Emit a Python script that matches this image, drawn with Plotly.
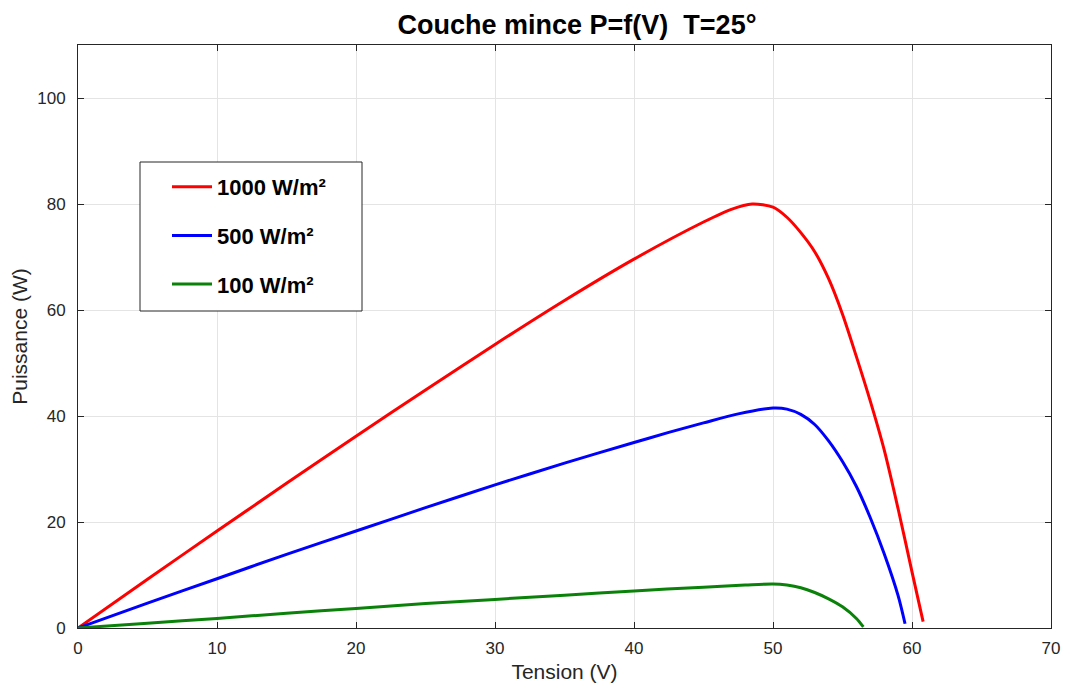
import plotly.graph_objects as go

# Tension (V) and Puissance (W)
v_1000 = [0, 5, 10, 15, 20, 25, 30, 35, 40, 45, 47, 48.5, 50, 51, 52, 53, 54, 55, 56, 57, 58, 59, 60, 60.8]
p_1000 = [0, 9.2, 18.3, 27.3, 36.2, 44.9, 53.5, 61.8, 69.6, 76.6, 79.0, 80.0, 79.4, 77.5, 74.6, 71.0, 65.9, 59.2, 51.2, 42.8, 33.6, 22.5, 10.6, 1.2]

v_500 = [0, 5, 10, 15, 20, 25, 30, 35, 40, 42.5, 45, 47.5, 50, 51, 52, 53, 54, 55, 56, 57, 58, 59, 59.5]
p_500 = [0, 4.7, 9.3, 13.9, 18.3, 22.7, 27.0, 31.1, 35.0, 36.9, 38.7, 40.4, 41.5, 41.3, 40.3, 38.4, 35.3, 31.4, 26.7, 20.8, 14.0, 6.1, 0.8]

v_100 = [0, 5, 10, 15, 20, 25, 30, 35, 40, 45, 48, 50, 51, 52, 53, 54, 55, 56, 56.5]
p_100 = [0, 0.9, 1.8, 2.8, 3.7, 4.6, 5.4, 6.2, 7.0, 7.7, 8.1, 8.3, 8.1, 7.6, 6.7, 5.5, 4.0, 1.8, 0.2]

series = [
    ("1000 W/m²", v_1000, p_1000, "#ff0000"),
    ("500 W/m²", v_500, p_500, "#0000ff"),
    ("100 W/m²", v_100, p_100, "#0a820a"),
]

x_ticks = [0, 10, 20, 30, 40, 50, 60, 70]
y_ticks = [0, 20, 40, 60, 80, 100]

FONT = "Liberation Sans, Arial, sans-serif"

fig = go.Figure()
for i, (name, xs, ys, col) in enumerate(series):
    fig.add_trace(go.Scatter(
        x=xs, y=ys, mode="lines", name=f"<b>{name}</b>",
        line=dict(color=col, width=3, shape="spline", smoothing=0.8),
        legendgroup=f"g{i}",
    ))

axis_common = dict(
    showline=True, linecolor="#262626", linewidth=1, mirror="ticks",
    ticks="inside", ticklen=6, tickcolor="#262626",
    showgrid=True, gridcolor="#e4e4e4", gridwidth=1,
    zeroline=False, automargin=False,
    tickfont=dict(family=FONT, size=17, color="#262626"),
)

fig.update_layout(
    width=1065, height=684,
    margin=dict(l=78, r=14, t=45, b=56),
    paper_bgcolor="white", plot_bgcolor="white",
    title=dict(
        text="<b>Couche mince P=f(V)  T=25°</b>",
        x=(577 - 78) / 973, xanchor="center", xref="paper",
        yref="container", y=1 - 25 / 684, yanchor="middle",
        font=dict(family=FONT, size=27, color="black"),
    ),
    xaxis=dict(
        range=[0, 70], tickvals=x_ticks, ticklabelstandoff=5,
        title=dict(text="Tension (V)", standoff=6,
                   font=dict(family=FONT, size=21, color="#262626")),
        **axis_common,
    ),
    yaxis=dict(
        range=[0, 110], tickvals=y_ticks, ticklabelstandoff=8,
        title=dict(text="Puissance (W)", standoff=3,
                   font=dict(family=FONT, size=21, color="#262626")),
        **axis_common,
    ),
    legend=dict(
        x=(167 - 78) / 973, y=(628 - 166) / 583, xanchor="left", yanchor="top",
        bgcolor="rgba(0,0,0,0)", borderwidth=0,
        font=dict(family=FONT, size=22, color="black"),
        tracegroupgap=17, itemwidth=40,
        traceorder="grouped",
    ),
    showlegend=True,
    shapes=[dict(
        type="rect", xref="paper", yref="paper",
        x0=(140 - 78) / 973, x1=(362 - 78) / 973,
        y0=(628 - 311) / 583, y1=(628 - 162) / 583,
        line=dict(color="#262626", width=1), fillcolor="white", layer="above",
    )],
)

fig.write_html("out.html")
